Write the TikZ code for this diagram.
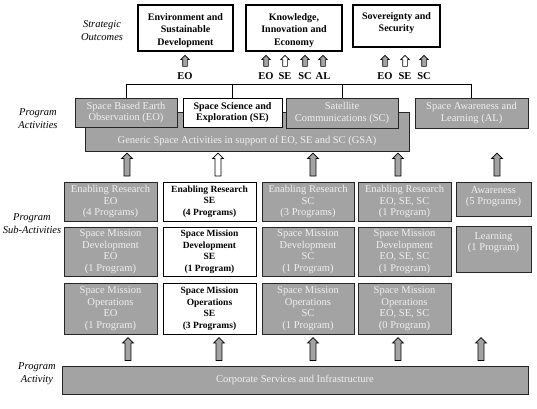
\documentclass[tikz,border=0pt]{standalone}
\usepackage{fontspec}
\setmainfont{Liberation Serif}
\usepackage{tikz}
\usetikzlibrary{shapes.arrows}
\definecolor{boxgray}{RGB}{163,163,163}
\definecolor{boxtext}{RGB}{240,240,240}

\begin{document}
\begin{tikzpicture}[x=1pt, y=-1pt,
  every node/.style={outer sep=0pt, inner sep=0pt, align=center},
  outcome/.style={draw=black, line width=2.2pt, fill=white, font=\fontsize{10}{12.5}\selectfont\bfseries},
  greybox/.style={draw=black!85, line width=1pt, fill=boxgray, text=boxtext, font=\fontsize{10.5}{11.5}\selectfont},
  plainbox/.style={draw=black, line width=1pt, fill=white, text=black, font=\fontsize{9.5}{11.5}\selectfont\bfseries},
  side/.style={font=\fontsize{10.5}{13}\selectfont\itshape},
  tag/.style={font=\fontsize{10.5}{11}\selectfont\bfseries},
  smallup/.style={single arrow, shape border rotate=90, draw=black, line width=0.6pt, inner sep=2pt, minimum height=11pt, single arrow head extend=2pt},
  bigup/.style={single arrow, shape border rotate=90, draw=black, line width=0.7pt, inner sep=2.6pt, minimum height=23pt, single arrow head extend=2.5pt}]
\useasboundingbox (0,0) rectangle (537,408);

% side labels
\node[side] (lblout) at (102,31) {Strategic\\Outcomes};
\node[side] (lblact) at (38,119) {Program\\Activities};
\node[side] (lblsub) at (32,224) {Program\\Sub-Activities};
\node[side] (lblcorp) at (37,374) {Program\\Activity};

% strategic outcomes
\node[outcome, minimum width=95, minimum height=46] (env) at (185.5,28) {\rule{0pt}{12pt}Environment and\\Sustainable\\Development};
\node[outcome, minimum width=96, minimum height=46] (know) at (294,28) {\rule{0pt}{12pt}Knowledge,\\Innovation and\\Economy};
\node[outcome, minimum width=87, minimum height=42] (sov) at (396.5,26) {\rule{0pt}{11pt}Sovereignty and\\Security\\\mbox{}};

\node[smallup, fill=boxgray] (uenv) at (185,62) {};
\node[smallup, fill=boxgray] (uknoweo) at (266,62) {};
\node[smallup, fill=white] (uknowse) at (285,62) {};
\node[smallup, fill=boxgray] (uknowsc) at (305,62) {};
\node[smallup, fill=boxgray] (uknowal) at (323,62) {};
\node[smallup, fill=boxgray] (usoveo) at (385,62) {};
\node[smallup, fill=white] (usovse) at (405,62) {};
\node[smallup, fill=boxgray] (usovsc) at (424,62) {};

\node[tag] (tenv) at (185,76) {EO};
\node[tag] (tknoweo) at (266,76) {EO};
\node[tag] (tknowse) at (285,76) {SE};
\node[tag] (tknowsc) at (305,76) {SC};
\node[tag] (tknowal) at (323,76) {AL};
\node[tag] (tsoveo) at (385,76) {EO};
\node[tag] (tsovse) at (405,76) {SE};
\node[tag] (tsovsc) at (424,76) {SC};

% program activities
\node[greybox, minimum width=324, minimum height=39] (gsa) at (247,131.5) {\rule{0pt}{27pt}Generic Space Activities in support of EO, SE and SC (GSA)};
\node[greybox, minimum width=102, minimum height=29] (eo) at (126,112.5) {Space Based Earth\\Observation (EO)};
\node[plainbox, minimum width=99, minimum height=29, font=\fontsize{10}{11.5}\selectfont\bfseries] (se) at (232.5,112.5) {Space Science and\\Exploration (SE)};
\node[greybox, minimum width=112, minimum height=30] (sc) at (342,113) {Satellite\\Communications (SC)};
\node[greybox, minimum width=113, minimum height=30] (al) at (471.5,113) {Space Awareness and\\Learning (AL)};

\coordinate (bar) at (0,84);
\draw[line width=0.7pt] (eo.north) -- (eo.north |- bar) -- (al.north |- bar) -- (al.north);
\draw[line width=0.7pt] (se.north) -- (se.north |- bar);
\draw[line width=0.7pt] (sc.north) -- (sc.north |- bar);

\node[bigup, fill=boxgray] (upeo) at (127,166) {};
\node[bigup, fill=white] (upse) at (218,166) {};
\node[bigup, fill=boxgray] (upsc) at (313,166) {};
\node[bigup, fill=boxgray] (upgsa) at (398,166) {};
\node[bigup, fill=boxgray] (upal) at (497,166) {};

% sub-activities
\node[greybox, minimum width=93, minimum height=39] (reseo) at (110.5,201.5) {Enabling Research\\EO\\(4 Programs)};
\node[plainbox, minimum width=93, minimum height=39] (resse) at (209.5,201.5) {Enabling Research\\SE\\(4 Programs)};
\node[greybox, minimum width=92, minimum height=39] (ressc) at (308,201.5) {Enabling Research\\SC\\(3 Programs)};
\node[greybox, minimum width=93, minimum height=39] (resgsa) at (404.5,201.5) {Enabling Research\\EO, SE, SC\\(1 Program)};
\node[greybox, minimum width=75, minimum height=34] (aware) at (493.5,199) {\rule{0pt}{11pt}Awareness\\(5 Programs)\\\mbox{}};

\node[greybox, minimum width=93, minimum height=49] (deveo) at (110.5,251.5) {Space Mission\\Development\\EO\\(1 Program)};
\node[plainbox, minimum width=93, minimum height=49] (devse) at (209.5,251.5) {Space Mission\\Development\\SE\\(1 Program)};
\node[greybox, minimum width=92, minimum height=49] (devsc) at (308,251.5) {Space Mission\\Development\\SC\\(1 Program)};
\node[greybox, minimum width=93, minimum height=49] (devgsa) at (404.5,251.5) {Space Mission\\Development\\EO, SE, SC\\(1 Program)};
\node[greybox, minimum width=75, minimum height=46] (learn) at (493.5,249) {Learning\\(1 Program)\\\strut};

\node[greybox, minimum width=93, minimum height=51] (opseo) at (110.5,308.5) {Space Mission\\Operations\\EO\\(1 Program)};
\node[plainbox, minimum width=93, minimum height=51] (opsse) at (209.5,308.5) {Space Mission\\Operations\\SE\\(3 Programs)};
\node[greybox, minimum width=92, minimum height=51] (opssc) at (308,308.5) {Space Mission\\Operations\\SC\\(1 Program)};
\node[greybox, minimum width=93, minimum height=51] (opsgsa) at (404.5,308.5) {Space Mission\\Operations\\EO, SE, SC\\(0 Program)};

\node[bigup, fill=boxgray] (cupeo) at (128,350.5) {};
\node[bigup, fill=boxgray] (cupse) at (219,350.5) {};
\node[bigup, fill=boxgray] (cupsc) at (313,350.5) {};
\node[bigup, fill=boxgray] (cupgsa) at (398,350.5) {};
\node[bigup, fill=boxgray] (cupal) at (481,350.5) {};

% program activity
\node[greybox, minimum width=466, minimum height=28] (corp) at (295,380) {Corporate Services and Infrastructure};
\end{tikzpicture}
\end{document}
